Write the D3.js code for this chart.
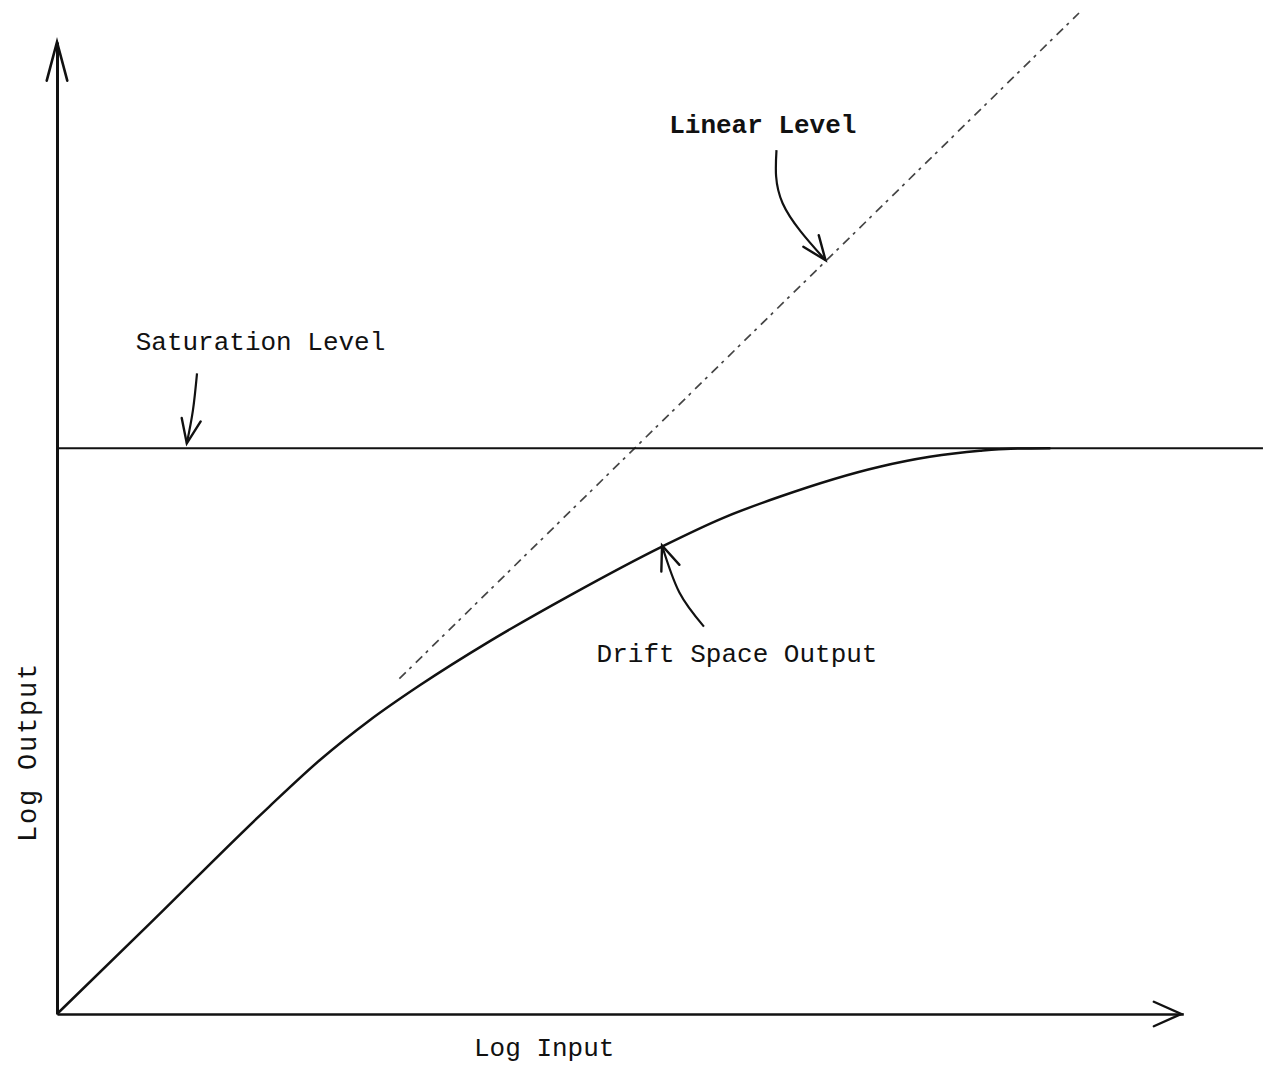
<!DOCTYPE html>
<html>
<head>
<meta charset="utf-8">
<script src="https://cdn.jsdelivr.net/npm/d3@7"></script>
<style>
  html, body { margin: 0; padding: 0; background: #fff; }
  svg { display: block; }
  text { font-family: "Liberation Mono", "DejaVu Sans Mono", monospace; fill: #111; }
</style>
</head>
<body>
<svg id="chart" width="1263" height="1070"></svg>
<script>
// ---- data (abstract log units) ----
const driftX = [0, 0.91, 2.08, 2.57, 3.06, 3.55, 4.24, 5.02, 5.93, 6.52, 7.07, 8.05, 8.54, 9.03, 9.33, 9.72];
const driftY = [0, 0.905, 2.075, 2.535, 2.935, 3.284, 3.728, 4.183, 4.675, 4.957, 5.167, 5.467, 5.566, 5.627, 5.648, 5.652];
const linearX = [0, 10];
const linearY = [0, 10];
const saturationLevel = 5.652;
const xAxisMax = 11.02;
const yAxisMax = 9.71;
const satXMax = 11.8;
const linearDashStart = 3.35;

const labels = [
  { text: "Saturation Level", x: 0.77, y: 6.63 },
  { text: "Linear Level", x: 5.99, y: 8.80 },
  { text: "Drift Space Output", x: 5.28, y: 3.52 },
];
const annotations = [
  { pts: [[1.37, 6.40], [1.33, 6.03], [1.27, 5.70]] },
  { pts: [[7.04, 8.63], [7.10, 8.10], [7.52, 7.53]] },
  { pts: [[6.33, 3.87], [6.09, 4.21], [5.92, 4.68]] },
];

// ---- scales ----
const svg = d3.select("#chart");
const x = d3.scaleLinear().domain([0, 10]).range([57, 1079]);
const y = d3.scaleLinear().domain([0, 10]).range([1014, 13]);

const line = d3.line().x(d => x(d[0])).y(d => y(d[1]));

// linear level (dashed, faint)
svg.append("path")
  .datum([[linearDashStart, linearDashStart], [linearX[1], linearY[1]]])
  .attr("d", line)
  .attr("fill", "none")
  .attr("stroke", "#444")
  .attr("stroke-width", 1.7)
  .attr("stroke-dasharray", "9,5,3,6");

// saturation level
svg.append("path")
  .datum([[0, saturationLevel], [satXMax, saturationLevel]])
  .attr("d", line)
  .attr("fill", "none")
  .attr("stroke", "#111")
  .attr("stroke-width", 2.2);

// drift space output
const driftPts = driftX.map((d, i) => [d, driftY[i]]);
svg.append("path")
  .datum(driftPts)
  .attr("d", d3.line().x(d => x(d[0])).y(d => y(d[1])).curve(d3.curveMonotoneX))
  .attr("fill", "none")
  .attr("stroke", "#111")
  .attr("stroke-width", 2.5);

// axes (no ticks)
const xAxisScale = d3.scaleLinear().domain([0, xAxisMax]).range([x(0), x(xAxisMax)]);
const yAxisScale = d3.scaleLinear().domain([0, yAxisMax]).range([y(0), y(yAxisMax)]);
svg.append("g").attr("transform", `translate(0,${y(0)})`)
  .call(d3.axisBottom(xAxisScale).tickValues([]).tickSizeOuter(0))
  .select(".domain").attr("stroke", "#111").attr("stroke-width", 2.6);
svg.append("g").attr("transform", `translate(${x(0)},0)`)
  .call(d3.axisLeft(yAxisScale).tickValues([]).tickSizeOuter(0))
  .select(".domain").attr("stroke", "#111").attr("stroke-width", 3);

function chevron(tx, ty, angle, len, spread, w) {
  const a1 = angle + Math.PI - spread, a2 = angle + Math.PI + spread;
  const p = `M${tx + len * Math.cos(a1)},${ty + len * Math.sin(a1)} L${tx},${ty} L${tx + len * Math.cos(a2)},${ty + len * Math.sin(a2)}`;
  svg.append("path").attr("d", p).attr("fill", "none").attr("stroke", "#111")
    .attr("stroke-width", w).attr("stroke-linejoin", "miter").attr("stroke-linecap", "round");
}
chevron(x(xAxisMax) - 2, y(0), 0, 30, 0.42, 2.4);
chevron(x(0), y(yAxisMax), -Math.PI / 2, 40, 0.26, 2.6);

// annotation arrows
annotations.forEach(a => {
  const pts = a.pts.map(p => [x(p[0]), y(p[1])]);
  svg.append("path")
    .attr("d", d3.line().curve(d3.curveNatural)(pts))
    .attr("fill", "none").attr("stroke", "#111").attr("stroke-width", 2.2);
  const [p1, p2] = [pts[pts.length - 2], pts[pts.length - 1]];
  const ang = Math.atan2(p2[1] - p1[1], p2[0] - p1[0]);
  chevron(p2[0], p2[1], ang, 26, 0.38, 2.4);
});

// labels
labels.forEach(l => {
  svg.append("text").attr("x", x(l.x)).attr("y", y(l.y))
    .attr("font-size", 26).text(l.text)
    .style("font-weight", l.text === "Linear Level" ? "bold" : "normal");
});
svg.append("text").attr("x", 474).attr("y", 1056).attr("font-size", 26).text("Log Input");
svg.append("text").attr("transform", "translate(36,842) rotate(-90)")
  .attr("font-size", 27).attr("letter-spacing", 1.8).text("Log Output");
</script>
</body>
</html>
